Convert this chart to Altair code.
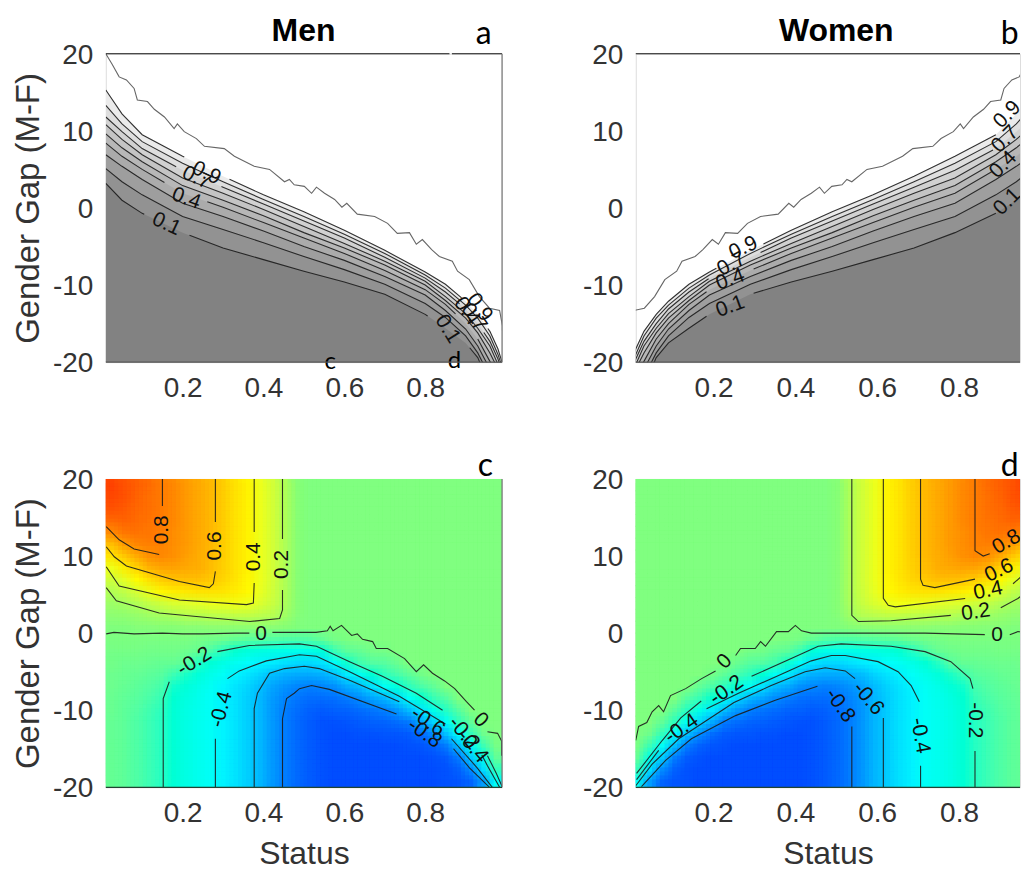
import altair as alt
import numpy as np
import pandas as pd

FONT = "Liberation Sans"
LETTER_FONT = "Lato"
INK = "#333333"

# ---- gray panels: contour levels read at these status values (panel a) ----
STATUS_A = [.01, .05, .10, .20, .30, .40, .50, .60, .70, .80, .85, .90, .93, .96, .98, .99]
LEVELS_A = {
    .9: [15.3, 12.2, 9.5, 6.7, 4.1, 1.7, -.5, -2.9, -5.5, -8.3, -9.9, -12.1, -13.8, -16, -18.3, -20],
    .8: [13.3, 10.9, 8.6, 5.8, 3.4, 1.1, -1.1, -3.4, -5.9, -8.7, -10.4, -12.6, -14.3, -16.6, -19, -20.6],
    .7: [11.8, 9.9, 7.7, 4.9, 2.7, .5, -1.7, -3.9, -6.4, -9.1, -10.9, -13.1, -15, -17.3, -19.6, -21.2],
    .6: [10.8, 8.9, 6.9, 3.9, 1.9, -.2, -2.4, -4.6, -6.9, -9.5, -11.5, -13.7, -15.6, -17.9, -20.3, -21.8],
    .5: [9.6, 7.8, 6, 2.9, 1, -1, -3.2, -5.2, -7.4, -10, -12, -14.3, -16.2, -18.8, -20.9, -22.5],
    .4: [8.4, 6.7, 5, 1.9, .1, -1.9, -3.9, -5.9, -8.1, -10.6, -12.5, -15, -17, -19.9, -21.8, -23.1],
    .3: [6.9, 5.4, 3.7, .6, -1.1, -3, -5, -6.8, -8.9, -11.3, -13.3, -15.7, -17.9, -20.9, -22.7, -24],
    .2: [5.1, 3.4, 1.7, -1.1, -2.8, -4.5, -6.3, -8, -9.9, -12.4, -14.2, -16.6, -18.8, -21.9, -23.8, -25],
    .1: [3.2, 1, -.7, -3.2, -5.2, -6.7, -8.2, -9.6, -11.2, -13.8, -15.6, -17.5, -19.4, -23.1, -25, -26.3],
}
BAND_SHADE = {.9: .85, .8: .75, .7: .65, .6: .55, .5: .45, .4: .35, .3: .25, .2: .15, .1: .02}
OUTER_A = [(.01, 20), (.026, 18.6), (.043, 17), (.061, 16.6), (.08, 15.5), (.088, 14), (.113, 13.8), (.13, 12.8),
           (.155, 11.8), (.179, 10.3), (.187, 10.9), (.204, 9.9), (.234, 9), (.254, 8), (.303, 7.7), (.328, 6.7),
           (.377, 5.4), (.415, 5), (.452, 3.4), (.464, 3.7), (.476, 3), (.501, 2.8), (.519, 1.9), (.531, 2.7),
           (.551, 1.9), (.576, 1.1), (.594, .1), (.606, .6), (.632, -.8), (.675, -1.1), (.707, -2), (.731, -3.3),
           (.761, -3.2), (.778, -4.7), (.793, -4.1), (.816, -5.4), (.835, -6.3), (.867, -6.9), (.88, -8.2),
           (.909, -9.3), (.934, -11.5), (.959, -13), (.984, -13.3), (.991, -15.3), (.991, -15.9)]
# where the contour is interrupted by its label
BREAKS_A = {.9: [(.204, .316), (.89, .955)], .7: [(.184, .296), (.885, .945)],
            .4: [(.155, .261), (.875, .93)], .1: [(.105, .217), (.806, .91)]}
BREAKS_B = {.9: [(.207, .322), (.89, .973)], .7: [(.188, .315), (.883, .963)],
            .4: [(.183, .298), (.883, .963)], .1: [(.183, .298), (.89, .968)]}
# text, status, gap, rotation
LABELS_A = [("0.9", .259, 4.5, 25), ("0.7", .234, 3.9, 25), ("0.4", .209, 1.2, 20), ("0.1", .16, -2.1, 25),
            ("0.9", .934, -12.9, 55), ("0.7", .92, -14.2, 55), ("0.4", .902, -13.4, 55), ("0.1", .855, -15.7, 58)]
LABELS_B = [("0.9", .273, -5.2, 335), ("0.7", .244, -7.3, 332), ("0.4", .241, -9.3, 340), ("0.1", .241, -12.8, 340),
            ("0.9", .918, 12.1, 315), ("0.7", .913, 8.9, 315), ("0.4", .908, 5.6, 315), ("0.1", .918, .8, 315)]
MIRROR_B = .99

# ---- colour panels: field values (x100), one row per gap band, top to bottom ----
FIELD_C = [
    [93, 90, 87, 84, 80, 76, 71, 67, 62, 56, 49, 43, 35, 27, 16, 3],
    [92, 90, 86, 83, 80, 76, 71, 67, 62, 56, 49, 43, 35, 27, 16, 3],
    [90, 88, 85, 83, 80, 76, 71, 67, 62, 56, 49, 43, 35, 27, 16, 3],
    [85, 86, 84, 82, 80, 76, 71, 67, 62, 56, 49, 43, 35, 27, 16, 3],
    [76, 81, 82, 81, 79, 75, 71, 67, 62, 56, 49, 43, 35, 27, 16, 3],
    [61, 71, 77, 79, 78, 75, 71, 67, 62, 56, 49, 43, 35, 27, 16, 3],
    [49, 58, 67, 74, 76, 74, 70, 66, 62, 56, 49, 43, 35, 27, 16, 3],
    [36, 45, 54, 64, 68, 69, 67, 65, 61, 55, 49, 43, 35, 27, 16, 3],
    [26, 33, 41, 50, 56, 59, 60, 60, 57, 53, 48, 42, 35, 27, 16, 3],
    [17, 22, 29, 36, 42, 45, 47, 49, 49, 48, 45, 41, 34, 26, 16, 3],
    [10, 13, 17, 22, 26, 30, 31, 33, 35, 36, 37, 35, 30, 24, 15, 3],
    [5, 6, 8, 11, 13, 15, 18, 19, 20, 21, 22, 22, 20, 18, 11, 2],
    [1, 1, 2, 2, 3, 3, 4, 4, 5, 5, 5, 5, 5, 4, 3, 1],
    [-1, -1, -1, -1, -1, -1, -1, -2, -3, -4, -6, -8, -9, -10, -11, -11, -10, -6, -2, -1],
    [-2, -2, -2, -3, -3, -3, -4, -6, -12, -19, -23, -27, -28, -30, -32, -33, -31, -26, -15, -8, -6, -3, -2],
    [-3, -4, -4, -5, -6, -6, -9, -19, -25, -30, -35, -39, -43, -46, -50, -53, -53, -49, -38, -22, -14, -10, -9, -5],
    [-4, -5, -6, -8, -9, -15, -21, -27, -32, -38, -44, -49, -55, -62, -66, -68, -68, -66, -60, -46, -36, -24, -18, -13, -8, -3],
    [-4, -6, -8, -10, -13, -22, -26, -31, -36, -42, -49, -55, -62, -70, -75, -79, -80, -79, -76, -68, -63, -50, -38, -27, -18, -12, -7],
    [-5, -7, -9, -12, -16, -24, -29, -33, -38, -44, -50, -57, -64, -73, -79, -83, -85, -85, -84, -81, -77, -70, -64, -52, -38, -24, -16, -10],
    [-5, -8, -10, -14, -18, -25, -30, -34, -38, -44, -50, -57, -64, -74, -81, -85, -88, -89, -88, -87, -85, -83, -80, -74, -62, -48, -32, -19, -9],
    [-6, -8, -11, -15, -19, -25, -30, -34, -38, -44, -50, -57, -64, -74, -81, -86, -89, -91, -91, -90, -89, -88, -87, -85, -82, -69, -55, -37, -18, -7],
    [-6, -8, -11, -15, -19, -25, -30, -34, -38, -44, -50, -57, -64, -74, -81, -86, -89, -91, -92, -92, -91, -91, -90, -90, -89, -85, -77, -61, -39, -17, -4],
    [-6, -8, -11, -15, -19, -25, -30, -34, -38, -44, -50, -57, -64, -74, -81, -86, -89, -91, -92, -92, -92, -92, -92, -92, -91, -90, -88, -81, -62, -37, -15, -2],
    [-6, -8, -11, -15, -19, -25, -30, -34, -38, -44, -50, -57, -64, -74, -81, -86, -89, -91, -92, -92, -92, -92, -92, -92, -92, -92, -91, -89, -81, -58, -32, -7],
    [-6, -8, -11, -15, -19, -25, -30, -34, -38, -44, -50, -57, -64, -74, -81, -86, -89, -91, -92, -92, -92, -92, -92, -92, -92, -92, -92, -91, -88, -77, -51, -17],
    [-6, -8, -11, -15, -19, -25, -30, -34, -38, -44, -50, -57, -64, -74, -81, -86, -89, -91, -92, -92, -92, -92, -92, -92, -92, -92, -92, -91, -90, -87, -72, -37],
]
MIRROR_D = .988

# ---- colour panel contours, one list per unbroken piece ----
LINES_C = [
    [(.011, 13.8), (.043, 12.1), (.08, 10.9), (.142, 10.2)], [(.15, 20), (.15, 16.5)],
    [(.281, 20), (.281, 14.4)],
    [(.281, 8), (.276, 6.4), (.266, 5.9), (.192, 6.7), (.061, 8.7), (.031, 9.9), (.011, 11.2)],
    [(.377, 20), (.377, 13.1)],
    [(.377, 6.5), (.375, 3.9), (.358, 3.7), (.192, 4.3), (.043, 6.1), (.011, 8.6)],
    [(.447, 20), (.447, 12.2)],
    [(.447, 5.6), (.447, 3), (.44, 1.9), (.366, 1.5), (.142, 2.6), (.036, 4.2), (.011, 5.9)],
    [(.011, -.1), (.03, .1), (.08, -.1), (.15, 0), (.2, -.1), (.25, -.1), (.33, 0), (.365, 0)],
    [(.422, .1), (.48, .1), (.53, .1), (.558, .3), (.565, .9), (.572, .3), (.593, 1), (.618, -.3), (.632, -.1),
     (.645, -.8), (.67, -1.1), (.679, -2), (.707, -2), (.749, -3.3), (.778, -5), (.796, -4.1), (.818, -5.2),
     (.848, -6.2), (.873, -7.2), (.902, -8.9), (.922, -10)],
    [(.954, -12.8), (.979, -13), (.989, -14), (.989, -15.9)],
    [(.152, -20), (.152, -8.5), (.167, -6.3)],
    [(.286, -2.4), (.365, -1.6), (.489, -1.4), (.531, -1.7), (.613, -3.7), (.694, -5.6), (.778, -7.8), (.843, -10)],
    [(.954, -15.9), (.976, -18.2), (.991, -20)],
    [(.281, -20), (.281, -13.7)],
    [(.311, -5.9), (.34, -4.9), (.407, -3.6), (.489, -2.8), (.531, -3), (.613, -5), (.736, -8.2), (.85, -11.8)],
    [(.94, -15.8), (.954, -17.2), (.984, -20)],
    [(.377, -20), (.377, -9.8), (.385, -7.8), (.415, -5.2), (.452, -4.6), (.501, -4.3), (.538, -4.6), (.613, -6.1), (.736, -8.9)],
    [(.865, -13.7), (.929, -17.5), (.966, -20)],
    [(.447, -20), (.447, -11.1), (.457, -8.5), (.476, -7.8), (.489, -7.2), (.519, -6.8), (.563, -7.3), (.729, -10.5)],
    [(.87, -15), (.91, -17.5), (.959, -20)],
]
LABELS_C = [("0.8", .15, 13.4, 270), ("0.6", .281, 11.3, 270), ("0.4", .377, 9.9, 270), ("0.2", .447, 8.9, 270),
            ("0", .394, -.1, 0), ("-0.2", .229, -3.7, 328), ("-0.4", .296, -9.9, 285), ("-0.6", .806, -11.5, 35),
            ("-0.8", .798, -13, 35), ("0", .937, -11.3, 45), ("-0.2", .895, -13, 50), ("-0.4", .917, -14.7, 50)]
LINES_D = [
    [(.839, 20), (.839, 10.7), (.859, 10), (.875, 10.3)],
    [(.706, 20), (.706, 7), (.712, 6.2), (.741, 5.9), (.839, 7)], [(.951, 9.4), (.968, 10.3)],
    [(.615, 20), (.615, 4.5), (.627, 3.6), (.644, 3.4), (.815, 4.5)], [(.932, 6.4), (.968, 8.1)],
    [(.538, 20), (.538, 2.3), (.554, 1.5), (.634, 1.6), (.78, 2.3)], [(.902, 3.3), (.944, 4.5), (.968, 5.5)],
    [(.01, -13.9), (.017, -12.1), (.037, -11.6), (.05, -10.2), (.066, -9.4), (.078, -10.2), (.095, -8.1), (.132, -7.2), (.171, -5.9), (.205, -4.9)],
    [(.254, -2.9), (.266, -2), (.302, -2), (.315, -1.1), (.327, -1.7), (.354, .2), (.383, .2), (.4, 1), (.415, .3),
     (.439, 0), (.554, 0), (.717, 0), (.863, -.2)],
    [(.924, -.2), (.944, .2), (.968, 0)],
    [(.839, -20), (.839, -15.3)],
    [(.834, -7.2), (.827, -5.9), (.78, -3.7), (.717, -2.4), (.634, -1.7), (.512, -1.4), (.456, -1.7), (.39, -3.3), (.293, -5.6)],
    [(.17, -8.8), (.12, -11), (.075, -13.9), (.012, -18.2)],
    [(.706, -20), (.706, -17.2)],
    [(.703, -8.9), (.683, -6.8), (.651, -5), (.602, -3.7), (.522, -2.9), (.488, -2.9), (.439, -3.6), (.359, -5.5), (.261, -7.8), (.183, -9.8)],
    [(.066, -15.2), (.012, -19)],
    [(.615, -20), (.615, -11)],
    [(.546, -5.9), (.522, -4.9), (.473, -4.5), (.424, -5), (.341, -6.8), (.25, -9), (.115, -13.7), (.05, -17), (.01, -19.8)],
    [(.538, -20), (.538, -12.1)],
    [(.454, -6.9), (.351, -8.7), (.254, -10.7), (.146, -13.7), (.083, -16.5), (.024, -19.9)],
]
LABELS_D = [("0.8", .916, 11.8, 330), ("0.6", .898, 8.1, 335), ("0.4", .871, 5.5, 348), ("0.2", .841, 2.7, 352),
            ("0", .227, -3.7, 315), ("0", .893, -.2, 0), ("-0.2", .839, -11.3, 90), ("-0.2", .232, -7.4, 325),
            ("-0.4", .705, -13.3, 80), ("-0.4", .122, -12.4, 325), ("-0.6", .578, -8.5, 50), ("-0.8", .509, -9.4, 55)]

X_TICKS = [.2, .4, .6, .8]
Y_TICKS = [-20, -10, 0, 10, 20]
DOMAIN_LEFT = [.01, .99]
DOMAIN_RIGHT = [.01, .949]
W_LEFT, W_RIGHT, H = 397, 385, 309
BLUR_STEPS = [-4, 0, 4]


def pieces(points, cuts):
    """Split a status-sorted contour into the pieces left between its label breaks."""
    s = np.array([p[0] for p in points])
    g = np.array([p[1] for p in points])
    out, start = [], s[0]
    for c0, c1 in list(cuts) + [(s[-1] + 1, s[-1] + 1)]:
        stop = min(c0, s[-1])
        inner = s[(s > start) & (s < stop)]
        xs = np.concatenate([[start], inner, [stop]])
        out.append(list(zip(xs, np.interp(xs, s, g))))
        start = c1
        if start >= s[-1]:
            break
    return out


def line_frame(lines):
    rows = []
    for k, line in enumerate(lines):
        for i, (s, g) in enumerate(line):
            rows.append({"s": float(s), "g": float(g), "seg": k, "i": i})
    return pd.DataFrame(rows)


def x_enc(domain, title):
    axis = alt.Axis(values=X_TICKS, format=".1f", tickSize=0, domain=False, grid=False, labelFontSize=28,
                    labelFont=FONT, labelColor=INK, labelPadding=12, labelFlush=False,
                    titleFont=FONT, titleFontSize=32, titleFontWeight="normal", titleColor=INK, titlePadding=11,
                    title=title)
    return alt.X("s:Q", scale=alt.Scale(domain=domain, nice=False, zero=False), axis=axis)


def y_enc(title):
    axis = alt.Axis(values=Y_TICKS, tickSize=0, domain=False, grid=False, labelFontSize=28, labelFont=FONT,
                    labelColor=INK, labelPadding=13, labelFlush=False, labelOffset=1.5,
                    labelExpr="toString(datum.value)", titleFont=FONT, titleFontSize=33,
                    titleFontWeight="normal", titleColor=INK, titlePadding=7, title=title)
    return alt.Y("g:Q", scale=alt.Scale(domain=[-20, 20], nice=False, zero=False), axis=axis)


def contour_layer(lines, domain, y_title, x_title, color="#1c1c1c"):
    return alt.Chart(line_frame(lines)).mark_line(clip=True, strokeWidth=1.1, color=color, opacity=.9).encode(
        x=x_enc(domain, x_title), y=y_enc(y_title), detail="seg:N", order="i:Q")


def label_layer(labels):
    df = pd.DataFrame(labels, columns=["t", "s", "g", "rot"])
    return alt.Chart(df).mark_text(clip=True, font=FONT, fontSize=21, color="#111111", align="center",
                                   baseline="middle").encode(
        x="s:Q", y="g:Q", text="t:N", angle=alt.Angle("rot:Q", scale=None))


def letter_layer(rows):
    df = pd.DataFrame(rows, columns=["t", "s", "g", "size"])
    return alt.Chart(df).mark_text(font=LETTER_FONT, color="black", baseline="middle", align="left").encode(
        x="s:Q", y="g:Q", text="t:N", size=alt.Size("size:Q", scale=None, legend=None))


def title_layer(text, s):
    df = pd.DataFrame({"t": [text], "s": [s], "g": [22.9]})
    return alt.Chart(df).mark_text(font=FONT, fontSize=32, fontWeight="bold", color="black", baseline="middle",
                                   align="center").encode(x="s:Q", y="g:Q", text="t:N")


def rule_layer(rows):
    df = pd.DataFrame(rows, columns=["s", "s2", "g", "g2", "c"])
    return alt.Chart(df).mark_rule(strokeWidth=1.2).encode(
        x="s:Q", x2="s2:Q", y="g:Q", y2="g2:Q", color=alt.Color("c:N", scale=None, legend=None))


def gray_panel(mirror, domain, width, y_title, breaks, labels, letters, rules, title, title_s):
    def m(points):
        return [(mirror - s, g) for s, g in reversed(points)] if mirror else list(points)

    bands = []
    for lev, vals in LEVELS_A.items():
        for s, g in m(list(zip(STATUS_A, vals))):
            bands.append({"s": s, "g": g, "base": -20, "lev": lev, "v": BAND_SHADE[lev]})
    area = alt.Chart(pd.DataFrame(bands)).mark_area(clip=True, interpolate="linear").encode(
        x=x_enc(domain, None), y=y_enc(y_title), y2="base:Q", detail="lev:N",
        color=alt.Color("v:Q", scale=alt.Scale(domain=[0, 1], range=["#808080", "#ffffff"]), legend=None))
    lines = []
    for lev, vals in LEVELS_A.items():
        lines += pieces(m(list(zip(STATUS_A, vals))), breaks.get(lev, []))
    contours = contour_layer(lines, domain, y_title, None)
    outer = contour_layer([m(OUTER_A)], domain, y_title, None, color="#555555")
    return alt.layer(area, contours, outer, label_layer(labels), letter_layer(letters), title_layer(title, title_s),
                     rule_layer(rules)).resolve_scale(color="independent").properties(width=width, height=H)


def color_panel(mirror, domain, width, lines, labels, letters, rules):
    edges_s = np.linspace(.01, .99, 33)
    edges_g = np.linspace(20, -20, 27)
    cells = []
    for r, row in enumerate(FIELD_C):
        row = row + [0] * (32 - len(row))
        for c, z in enumerate(row):
            a, b = edges_s[c], edges_s[c + 1]
            if mirror:
                a, b = mirror - b, mirror - a
            cells.append({"s": a, "s2": b, "g": edges_g[r], "g2": edges_g[r + 1], "z": z / 100})
    scale = alt.Scale(domain=[-1, -.4, 0, .4, 1], range=["#0000ff", "#00ffff", "#80ff80", "#ffff00", "#ff0000"])
    cells = pd.DataFrame(cells)
    y_title = "Gender Gap (M-F)" if not mirror else None
    base = alt.Chart(cells).mark_rect(clip=True, strokeWidth=.6).encode(
        x=x_enc(domain, "Status"), x2="s2:Q", y=y_enc(y_title), y2="g2:Q",
        fill=alt.Fill("z:Q", scale=scale, legend=None), stroke=alt.Stroke("z:Q", scale=scale, legend=None))
    # The same cells are laid over themselves a few pixels apart so the field reads as smooth
    soft, k = [], 1
    for dx in BLUR_STEPS:
        for dy in BLUR_STEPS:
            soft.append(alt.Chart(cells).mark_rect(clip=True, opacity=1 / k, xOffset=dx, x2Offset=dx, yOffset=dy,
                                                   y2Offset=dy).encode(
                x=x_enc(domain, "Status"), x2="s2:Q", y=y_enc(y_title), y2="g2:Q",
                fill=alt.Fill("z:Q", scale=scale, legend=None)))
            k += 1
    contours = contour_layer(lines, domain, y_title, "Status")
    return alt.layer(base, *soft, contours, label_layer(labels), letter_layer(letters), rule_layer(rules)).resolve_scale(
        color="independent").properties(width=width, height=H)


panel_a = gray_panel(None, DOMAIN_LEFT, W_LEFT, "Gender Gap (M-F)", BREAKS_A, LABELS_A,
                     [("a", .925, 22.6, 32), ("c", .551, -20, 24), ("d", .856, -19.8, 24)],
                     [(.01, .86, 20, 20, "#111111"), (.866, .99, 20, 20, "#111111"),
                      (.99, .99, -20, 20, "#777777"), (.01, .99, -20, -20, "#555555")],
                     "Men", .499)
panel_b = gray_panel(MIRROR_B, DOMAIN_RIGHT, W_RIGHT, None, BREAKS_B, LABELS_B,
                     [("b", .902, 22.6, 32)],
                     [(.01, DOMAIN_RIGHT[1], 20, 20, "#111111"), (.01, DOMAIN_RIGHT[1], -20, -20, "#555555")],
                     "Women", .5)
panel_c = color_panel(None, DOMAIN_LEFT, W_LEFT, LINES_C, LABELS_C, [("c", .93, 21.7, 32)],
                      [(.99, .99, -20, 20, "#777777"), (.01, .99, -20, -20, "#224433")])
panel_d = color_panel(MIRROR_D, DOMAIN_RIGHT, W_RIGHT, LINES_D, LABELS_D, [("d", .902, 21.7, 32)],
                      [(.01, DOMAIN_RIGHT[1], -20, -20, "#224433")])

chart = alt.vconcat(
    alt.hconcat(panel_a, panel_b, spacing=78),
    alt.hconcat(panel_c, panel_d, spacing=78),
    spacing=46,
).properties(padding={"left": 4, "top": 6, "right": 0, "bottom": 0}).configure_view(stroke=None).configure(background="white")

chart.save("out.html", embed_options={"renderer": "svg", "actions": False})
